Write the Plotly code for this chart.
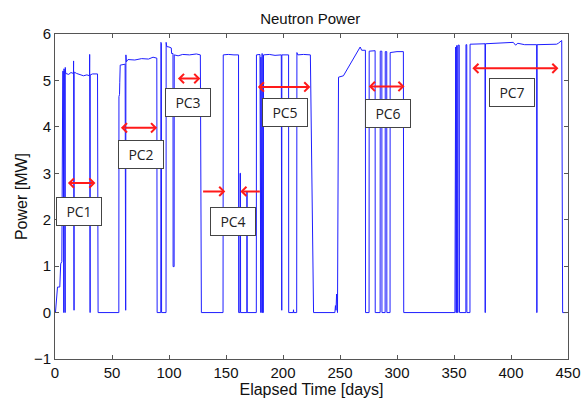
import plotly.graph_objects as go

# ---- data (elapsed day, neutron power in MW) ----
elapsed_days = [
    0.4, 2.2, 4.2, 5.0, 6.0, 6.2, 6.6, 6.8, 7.3, 7.4, 7.7, 7.8, 8.4, 8.5, 8.9, 9.0, 9.4,
    12.0, 14.0, 16.2, 16.3, 16.4, 16.7, 16.8, 19.0, 22.0, 25.0, 28.0, 30.3, 30.4, 30.5,
    30.8, 30.9, 33.0, 37.3, 37.8,
    56.0, 56.1, 56.6, 56.8, 57.2, 61.5, 61.7, 62.0, 62.2, 62.6, 64.0, 70.0, 76.0, 82.0,
    86.0, 89.3, 89.6, 92.8, 92.9, 93.3, 93.5, 97.4, 97.5, 98.0, 100.0, 102.0, 102.3,
    103.5, 103.6, 104.5, 104.6, 108.0, 112.0, 118.0, 124.0, 127.5, 128.4,
    147.4, 147.6, 152.0, 157.0, 161.0, 161.1, 162.2, 162.3, 162.7, 162.8, 168.3, 168.4,
    168.6, 176.6, 176.7, 179.8, 179.9, 180.5, 180.6, 181.0, 181.6, 181.7, 182.1, 182.8,
    182.9, 188.0, 193.0, 198.5, 198.6, 198.9, 199.0, 204.9, 205.0, 209.0, 209.2, 209.4,
    212.0, 212.2, 213.0, 218.0, 224.0, 226.8,
    245.5, 246.0, 246.5, 247.0, 247.8, 248.7, 253.0, 267.7, 269.0, 272.3, 272.4, 275.5,
    275.6, 280.8, 280.9, 285.2, 285.3, 286.7, 286.8, 289.6, 289.7, 291.0, 291.1, 293.9,
    294.0, 300.0, 305.6, 305.9,
    350.8, 351.0, 351.5, 351.7, 352.2, 352.3, 352.8, 353.0, 353.5, 353.6, 354.6, 354.8,
    360.4, 360.5, 361.2, 361.3, 364.0, 364.1, 370.0, 377.2, 377.3, 377.5, 377.6, 385.0,
    395.0, 402.0, 404.0, 406.0, 412.0, 422.5, 422.6, 422.8, 422.9, 440.0, 441.5, 444.5,
    445.3, 449.0,
]
power_mw = [
    0.0, 0.55, 0.55, 1.05, 1.1, 3.8, 3.8, 5.2, 5.2, 0.0, 0.0, 5.25, 5.22, 0.0, 0.0, 5.28, 5.15,
    5.13, 5.17, 5.15, 5.42, 0.05, 0.05, 5.18, 5.15, 5.12, 5.1, 5.12, 5.1, 5.56, 0.0,
    0.0, 5.12, 5.14, 5.14, 0.0,
    0.0, 4.65, 4.7, 4.95, 5.33, 5.35, 0.05, 0.05, 5.55, 5.4, 5.45, 5.44, 5.47, 5.46,
    5.5, 5.48, 0.0, 0.0, 5.82, 5.8, 0.0, 0.0, 5.82, 5.73, 5.72, 5.7, 5.58,
    5.58, 0.99, 0.99, 5.55, 5.53, 5.56, 5.55, 5.57, 5.55, 0.0,
    0.0, 5.55, 5.56, 5.55, 5.55, 0.0, 0.0, 3.0, 3.0, 0.0, 0.0, 2.6,
    0.0, 0.0, 5.55, 5.56, 0.0, 0.0, 5.5, 0.0, 0.0, 5.58, 0.0, 0.0,
    5.55, 5.56, 5.54, 5.55, 0.05, 0.05, 5.55, 5.55, 0.0, 0.0, 0.06, 0.0,
    0.0, 5.6, 5.55, 5.56, 5.55, 0.0,
    0.0, 0.15, 0.05, 0.4, 0.0, 5.07, 5.1, 5.72, 5.65, 5.65, 0.0, 0.0,
    5.63, 5.64, 0.0, 0.0, 5.63, 5.63, 0.0, 0.0, 5.62, 5.62, 0.0, 0.0,
    5.6, 5.62, 5.62, 0.0,
    0.0, 5.7, 5.72, 0.0, 0.0, 5.75, 5.75, 0.0, 0.0, 5.76, 5.76, 0.0,
    0.0, 5.77, 5.77, 0.0, 0.0, 5.78, 5.78, 5.79, 0.0, 0.0, 5.79, 5.8,
    5.81, 5.82, 5.76, 5.8, 5.77, 5.77, 0.0, 0.0, 5.77, 5.78, 5.8, 5.86,
    0.0, 0.0,
]

# ---- power-cycle annotations ----
cycle_labels = ["PC1", "PC2", "PC3", "PC4", "PC5", "PC6", "PC7"]
label_days = [21.0, 75.6, 117.0, 156.0, 202.0, 291.8, 400.5]
label_power = [2.18, 3.40, 4.52, 1.97, 4.30, 4.29, 4.73]

arrow_from_days = [10.0, 56.5, 106.5, 128.6, 181.0, 176.6, 274.0, 364.8]
arrow_to_days = [35.5, 89.6, 127.5, 149.4, 162.6, 224.0, 306.6, 441.6]
arrow_power = [2.79, 3.98, 5.04, 2.61, 2.61, 4.86, 4.87, 5.26]
arrow_sides = ["end+start", "end+start", "end+start", "end", "end",
               "end+start", "end+start", "end+start"]

x_ticks = [0, 50, 100, 150, 200, 250, 300, 350, 400, 450]
y_ticks = [-1, 0, 1, 2, 3, 4, 5, 6]

fig = go.Figure()
fig.add_trace(go.Scatter(
    x=elapsed_days, y=power_mw, mode="lines",
    line=dict(color="rgb(30,30,255)", width=1),
    showlegend=False, hoverinfo="skip",
))

for x0, x1, yv, side in zip(arrow_from_days, arrow_to_days, arrow_power, arrow_sides):
    fig.add_annotation(
        x=x1, y=yv, ax=x0, ay=yv, xref="x", yref="y", axref="x", ayref="y",
        text="", showarrow=True, arrowside=side,
        arrowhead=4, startarrowhead=4, arrowsize=0.9, startarrowsize=0.9,
        arrowwidth=2, arrowcolor="#ff1a1a", standoff=0, startstandoff=0,
    )

for lab, xd, yp in zip(cycle_labels, label_days, label_power):
    fig.add_annotation(
        x=xd, y=yp, xref="x", yref="y", text=lab, showarrow=False,
        font=dict(family="Open Sans", size=14, color="#222"),
        bgcolor="white", bordercolor="#444", borderwidth=1, borderpad=0,
        width=44, height=27, align="center", valign="middle",
    )

axis_common = dict(
    showgrid=False, zeroline=False, showline=True, linecolor="#555", linewidth=1,
    mirror="ticks", ticks="inside", ticklen=4, tickcolor="#555", tickwidth=1,
    tickfont=dict(family="Liberation Sans", size=15, color="#111"),
    automargin=False,
)

fig.update_layout(
    width=582, height=398,
    margin=dict(l=55, r=14, t=34, b=39),
    paper_bgcolor="white", plot_bgcolor="white",
    title=dict(text="Neutron Power", x=0.533, xanchor="center", y=0.952, yanchor="middle",
               yref="container",
               font=dict(family="Liberation Sans", size=15, color="#111")),
    xaxis=dict(range=[0, 450], tickvals=x_ticks,
               title=dict(text="Elapsed Time [days]", standoff=0,
                          font=dict(family="Liberation Sans", size=16, color="#111")),
               **axis_common),
    yaxis=dict(range=[-1, 6], tickvals=y_ticks,
               title=dict(text="Power [MW]", standoff=2,
                          font=dict(family="Liberation Sans", size=16, color="#111")),
               **axis_common),
)

fig.write_html("out.html", config={"displayModeBar": False},
               post_script="document.body.style.margin='0px';document.body.style.overflow='hidden';")
